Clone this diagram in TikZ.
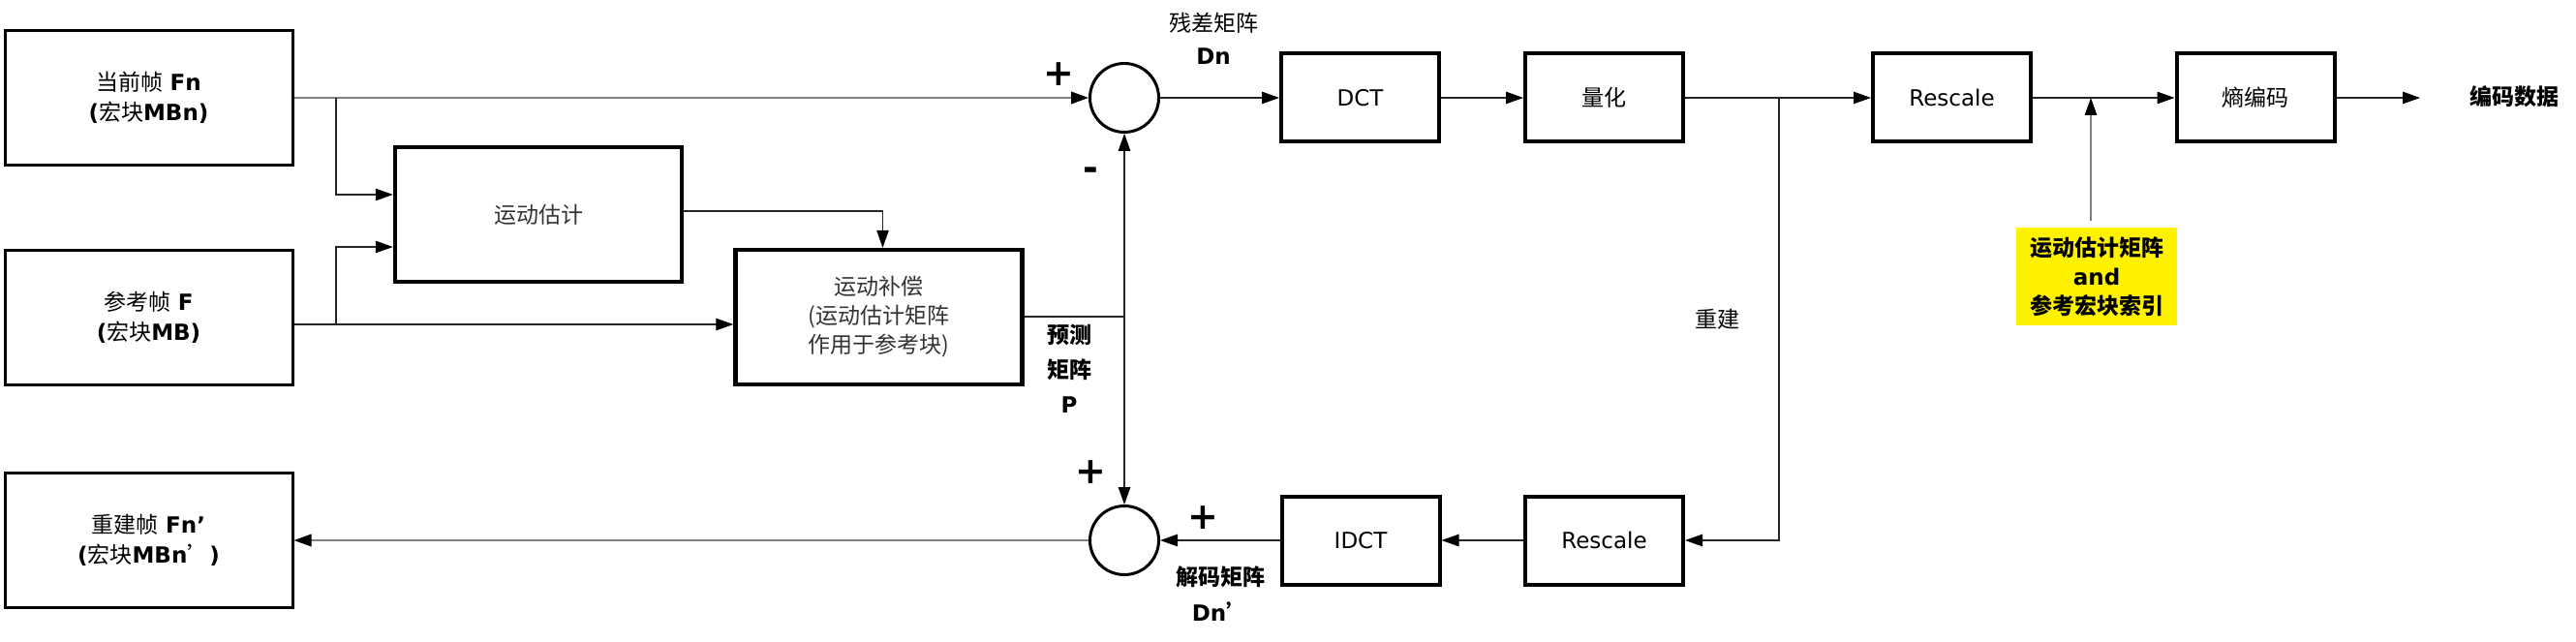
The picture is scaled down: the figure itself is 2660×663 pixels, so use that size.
\documentclass[tikz,border=0pt]{standalone}
\usepackage{fontspec}
\setmainfont{DejaVu Sans}
\newfontfamily\cjk{Noto Sans CJK SC}
\usetikzlibrary{arrows.meta,calc}
\begin{document}
\begin{tikzpicture}[x=1pt,y=-1pt,
  every node/.style={font=\fontsize{23}{31}\selectfont, inner sep=0pt, align=center},
  frame/.style={draw=black, line width=3pt, minimum width=297pt, minimum height=139pt},
  bigblk/.style={draw=black, line width=4.5pt, minimum width=296pt, minimum height=139pt, text=black!80},
  blk/.style={draw=black, line width=4pt, minimum width=163pt, minimum height=91pt},
  sum/.style={circle, draw=black, line width=3pt, minimum size=71pt},
  tipb/.tip={Triangle[length=18pt,width=12.5pt,color=black]},
  ln/.style={draw=black!85, line width=1.2pt, -tipb},
  lnp/.style={draw=black!85, line width=1.2pt},
  gln/.style={draw=black!50, line width=2pt, -tipb},
  sign/.style={font=\fontsize{38}{40}\selectfont\bfseries},
  lbl/.style={font=\fontsize{23}{34}\selectfont}
]
\fill[white] (0,0) rectangle (2660,663);
\useasboundingbox (0,0) rectangle (2660,663);

% frames
\node[frame] (cur) at (153.5,101) {{\cjk 当前帧} \textbf{Fn}\\\textbf{(}{\cjk 宏块}\textbf{MBn)}};
\node[frame] (ref) at (153.5,328) {{\cjk 参考帧} \textbf{F}\\\textbf{(}{\cjk 宏块}\textbf{MB)}};
\node[frame] (rec) at (153.5,558) {{\cjk 重建帧} \textbf{Fn’}\\\textbf{(}{\cjk 宏块}\textbf{MBn}{\cjk ’}\textbf{)}};

% motion estimation / compensation
\node[bigblk] (me) at (556,221.5) {{\cjk 运动估计}};
\node[bigblk, font=\fontsize{23}{30}\selectfont\cjk] (mc) at (907.5,327.5) {运动补偿\\(运动估计矩阵\\作用于参考块)};

% summing points
\node[sum] (s1) at (1161,101) {};
\node[sum] (s2) at (1161,558) {};

% top row
\node[blk] (dct) at (1404.5,101) {DCT};
\node[blk] (q) at (1656.5,101) {{\cjk 量化}};
\node[blk] (rs1) at (2015.5,101) {Rescale};
\node[blk] (ent) at (2329,101) {{\cjk 熵编码}};
\node[lbl] (outtxt) at (2596,100) {{\cjk\bfseries 编码数据}};

% bottom row
\node[blk] (idct) at (1405,558) {IDCT};
\node[blk] (rs2) at (1656.5,558) {Rescale};

% yellow note
\node[fill=yellow, minimum width=166pt, minimum height=101pt, font=\fontsize{23}{30}\selectfont] (yel) at (2165,285.5)
  {{\cjk\bfseries 运动估计矩阵}\\\textbf{and}\\{\cjk\bfseries 参考宏块索引}};

% labels
\node[lbl] (lres) at (1253,40) {{\cjk 残差矩阵}\\\textbf{Dn}};
\node[lbl, font=\fontsize{23}{36}\selectfont] (lpred) at (1104,381) {{\cjk\bfseries 预测}\\{\cjk\bfseries 矩阵}\\\textbf{P}};
\node[lbl, font=\fontsize{23}{37}\selectfont] (ldec) at (1260,613) {{\cjk\bfseries 解码矩阵}\\\textbf{Dn}{\cjk\bfseries ’}};
\node[lbl] (lrec) at (1773,330) {{\cjk 重建}};
\node[sign] (p1) at (1093,77) {+};
\node[sign] (m1) at (1126,180) {-};
\node[sign] (p2) at (1126,488) {+};
\node[sign] (p3) at (1242,535) {+};

% coordinates
\coordinate (b1) at (347,101);
\coordinate (b2) at (347,335);
\coordinate (yA) at (0,201);
\coordinate (yB) at (0,255);
\coordinate (yC) at (0,218);
\coordinate (j) at (1161,327);
\coordinate (b3) at (1837,101);
\coordinate (outp) at (2499,101);
\coordinate (yT) at (2159,228);

% connectors
\draw[gln] (cur.east) -- (s1.west);
\draw[ln] (b1) |- (me.west |- yA);
\draw[ln] (ref.east |- b2) -- (mc.west |- b2);
\draw[ln] (b2) |- (me.west |- yB);
\draw[ln] (me.east |- yC) -| ([xshift=4pt]mc.north);
\draw[lnp] (mc.east |- j) -- (j);
\draw[ln] (j) -- (s1.south);
\draw[ln] (j) -- (s2.north);
\draw[ln] (s1.east) -- (dct.west);
\draw[ln] (dct.east) -- (q.west);
\draw[ln] (q.east) -- (rs1.west);
\draw[ln] (rs1.east) -- (ent.west);
\draw[ln] (ent.east) -- (outp);
\draw[gln, line width=1.5pt] (yT) -- (yT |- rs1.east);
\draw[ln] (b3) |- (rs2.east);
\draw[ln] (rs2.west) -- (idct.east);
\draw[ln] (idct.west) -- (s2.east);
\draw[gln] (s2.west) -- (rec.east);
\end{tikzpicture}
\end{document}
